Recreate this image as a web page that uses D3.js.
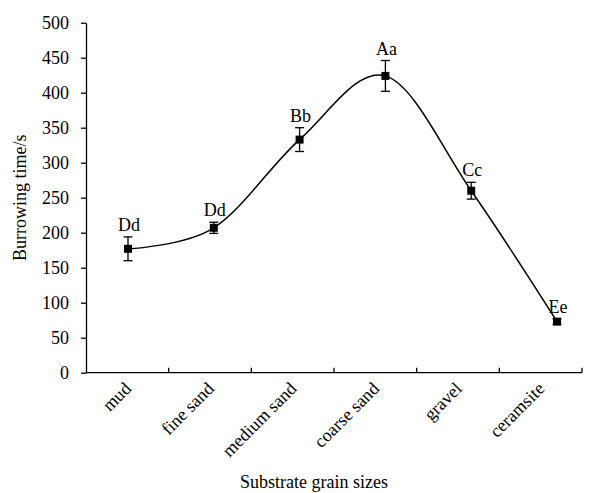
<!DOCTYPE html>
<html>
<head>
<meta charset="utf-8">
<script src="https://cdn.jsdelivr.net/npm/d3@7/dist/d3.min.js"></script>
<style>
  html, body { margin: 0; padding: 0; background: #fff; }
  svg { display: block; }
  svg text { font-family: "Liberation Serif", "Times New Roman", serif !important; fill: #000; }
</style>
</head>
<body>
<svg id="chart" width="600" height="493"></svg>
<script>
const categories = ["mud", "fine sand", "medium sand", "coarse sand", "gravel", "ceramsite"];
const values = [177, 207, 333, 424, 260, 73];
const errors = [17, 8, 17, 22, 12, 4];
const letters = ["Dd", "Dd", "Bb", "Aa", "Cc", "Ee"];
const yTicks = [0, 50, 100, 150, 200, 250, 300, 350, 400, 450, 500];

const FS = 18;
const svg = d3.select("#chart");
const mLeft = 86, mRight = 582, mTop = 22.7, mBottom = 372.7;

const x = d3.scaleBand().domain(categories).range([mLeft, mRight]).paddingInner(0).paddingOuter(0);
const xp = d3.scaleLinear().domain([0, categories.length - 1]).range([128, 557]);
const y = d3.scaleLinear().domain([0, 500]).range([mBottom, mTop]);

// Y axis
const yAxis = svg.append("g").attr("transform", `translate(${mLeft},0)`)
  .attr("font-family", "Liberation Serif")
  .call(d3.axisLeft(y).tickValues(yTicks).tickSize(5).tickSizeOuter(0).tickPadding(12));
yAxis.select(".domain").attr("stroke", "#000").attr("stroke-width", 1.3);
yAxis.selectAll(".tick line").attr("stroke", "#000").attr("stroke-width", 1.3);
yAxis.selectAll(".tick text").attr("font-size", FS).attr("dy", "0.34em");

// X axis line
svg.append("line").attr("x1", mLeft).attr("x2", mRight).attr("y1", mBottom).attr("y2", mBottom)
  .attr("stroke", "#000").attr("stroke-width", 1.3);
// x ticks between categories (inward)
const bounds = categories.map(c => x(c)).slice(1).concat([mRight]);
svg.append("g").selectAll("line").data(bounds).join("line")
  .attr("x1", d => d).attr("x2", d => d).attr("y1", mBottom).attr("y2", mBottom - 5)
  .attr("stroke", "#000").attr("stroke-width", 1.3);

// x labels rotated
svg.append("g").selectAll("text").data(categories).join("text")
  .attr("transform", d => `translate(${x(d) + x.bandwidth() / 2 + 5},${mBottom + 17}) rotate(-45)`)
  .attr("text-anchor", "end")
  .attr("font-size", FS)
  .text(d => d);

// axis titles
svg.append("text").attr("x", 314).attr("y", 488)
  .attr("text-anchor", "middle").attr("font-size", FS).text("Substrate grain sizes");
svg.append("text").attr("transform", `translate(26,${(mTop + mBottom) / 2}) rotate(-90)`)
  .attr("text-anchor", "middle").attr("font-size", FS).text("Burrowing time/s");

// smooth line
const pts = values.map((v, i) => [xp(i), y(v)]);
svg.append("path").attr("d", d3.line().curve(d3.curveCardinal.tension(0))(pts))
  .attr("fill", "none").attr("stroke", "#000").attr("stroke-width", 1.5);

// error bars
const eb = svg.append("g").selectAll("g").data(values).join("g");
eb.append("line").attr("x1", (d, i) => xp(i)).attr("x2", (d, i) => xp(i))
  .attr("y1", (d, i) => y(d + errors[i])).attr("y2", (d, i) => y(d - errors[i]))
  .attr("stroke", "#000").attr("stroke-width", 1.3);
eb.append("line").attr("x1", (d, i) => xp(i) - 4.5).attr("x2", (d, i) => xp(i) + 4.5)
  .attr("y1", (d, i) => y(d + errors[i])).attr("y2", (d, i) => y(d + errors[i]))
  .attr("stroke", "#000").attr("stroke-width", 1.3);
eb.append("line").attr("x1", (d, i) => xp(i) - 4.5).attr("x2", (d, i) => xp(i) + 4.5)
  .attr("y1", (d, i) => y(d - errors[i])).attr("y2", (d, i) => y(d - errors[i]))
  .attr("stroke", "#000").attr("stroke-width", 1.3);

// markers
svg.append("g").selectAll("rect").data(values).join("rect")
  .attr("x", (d, i) => xp(i) - 4).attr("y", d => y(d) - 4)
  .attr("width", 8).attr("height", 8).attr("fill", "#000");

// letters
svg.append("g").selectAll("text").data(values).join("text")
  .attr("x", (d, i) => xp(i) + 1)
  .attr("y", (d, i) => y(d + errors[i]) - 6)
  .attr("text-anchor", "middle").attr("font-size", FS)
  .text((d, i) => letters[i]);
</script>
</body>
</html>
